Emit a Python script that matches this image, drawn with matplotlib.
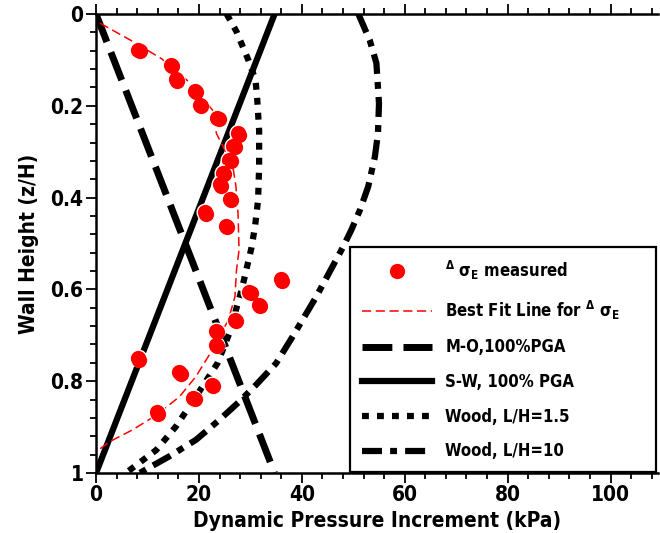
import numpy as np
import matplotlib
matplotlib.use("Agg")
import matplotlib.pyplot as plt
from matplotlib.transforms import offset_copy

plt.rcParams['font.family'] = ['DejaVu Sans']
plt.rcParams['font.stretch'] = 'condensed'
plt.rcParams['font.weight'] = 'bold'
plt.rcParams['mathtext.default'] = 'bf'

# measured dynamic pressure increments (kPa) vs normalised height z/H
meas_z = [0.078, 0.110, 0.142, 0.167, 0.198, 0.226, 0.260, 0.287, 0.317, 0.346, 0.371,
          0.402, 0.432, 0.462, 0.578, 0.605, 0.634, 0.667, 0.690, 0.721, 0.750, 0.781,
          0.808, 0.837, 0.868]
meas_p = [8.2, 14.5, 15.5, 19.2, 20.2, 23.6, 27.6, 26.7, 25.9, 24.7, 24.1,
          26.0, 21.2, 25.2, 35.9, 29.8, 31.7, 27.0, 23.3, 23.3, 8.1, 16.2,
          22.5, 18.9, 11.8]

# best fit through the measurements
fit_z = [0.02, 0.06, 0.097, 0.15, 0.21, 0.26, 0.30, 0.34, 0.376, 0.434, 0.514, 0.558,
         0.616, 0.667, 0.732, 0.790, 0.834, 0.874, 0.906, 0.932, 0.954]
fit_p = [0.8, 7.2, 12.7, 18.3, 22.7, 23.4, 25.2, 26.7, 27.2, 27.6, 27.8, 27.3,
         27.0, 25.7, 22.6, 19.4, 16.2, 11.7, 7.1, 2.6, 0.0]

# Mononobe-Okabe and Seed-Whitman, 100% PGA
mo_z = [0.0, 1.0]
mo_p = [0.0, 34.7]
sw_z = [0.0, 1.0]
sw_p = [34.7, 0.0]

# Wood solutions
w15_z = [0.0, 0.038, 0.10, 0.144, 0.18, 0.253, 0.333, 0.405, 0.463, 0.51, 0.601,
         0.696, 0.761, 0.834, 0.899, 0.95, 1.0]
w15_p = [25.4, 27.3, 29.6, 31.0, 31.3, 31.7, 31.7, 31.5, 30.9, 30.2, 28.3,
         25.9, 23.6, 19.4, 15.5, 11.7, 5.8]
w10_z = [0.0, 0.057, 0.107, 0.195, 0.26, 0.311, 0.376, 0.427, 0.471, 0.51, 0.616,
         0.703, 0.761, 0.808, 0.845, 0.885, 0.928, 0.964, 1.0]
w10_p = [51.0, 53.2, 54.5, 55.0, 54.8, 54.2, 52.9, 51.3, 49.6, 47.9, 42.8,
         38.2, 35.0, 31.1, 27.8, 23.9, 19.4, 14.2, 8.5]

xticks = [0, 20, 40, 60, 80, 100]
yticks = [0, 0.2, 0.4, 0.6, 0.8, 1]

fig = plt.figure(figsize=(6.6, 5.33), dpi=100)
ax = fig.add_axes([0.1455, 0.1126, 0.852, 0.861])

ax.plot(mo_p, mo_z, color='black', lw=5, ls=(0, (4.3, 1.6)), label='M-O,100%PGA')
ax.plot(sw_p, sw_z, color='black', lw=4.5, ls='-', label='S-W, 100% PGA')
ax.plot(w15_p, w15_z, color='black', lw=4.5, ls=(0, (1.1, 1.3)), label='Wood, L/H=1.5')
ax.plot(w10_p, w10_z, color='black', lw=4.5, ls=(0, (3.2, 1.3, 1.1, 1.3)),
        label='Wood, L/H=10')
ax.plot(fit_p, fit_z, color='red', lw=1.1, ls=(0, (6, 3)),
        label=r'Best Fit Line for $^{\Delta}\ \sigma_{E}$')

# red markers with a small white highlight
ax.plot(meas_p, meas_z, 'o', color='red', ms=12, mec='white', mew=1.0,
        label=r'$^{\Delta}\ \sigma_{E}$ measured', zorder=5)
shift = offset_copy(ax.transData, fig=fig, x=1.3, y=-1.3, units='dots')
ax.plot(meas_p, meas_z, 'o', color='red', ms=11, mew=0, transform=shift, zorder=6)

ax.set_xlim(0, 109.3)
ax.set_ylim(1, 0)
ax.set_xticks(xticks)
ax.set_xticklabels([str(t) for t in xticks])
ax.set_yticks(yticks)
ax.set_yticklabels(['0', '0.2', '0.4', '0.6', '0.8', '1'])
ax.set_xticks(np.arange(0, 110, 4), minor=True)
ax.set_yticks(np.arange(0, 1.001, 0.04), minor=True)
ax.tick_params(which='both', top=True, right=False, direction='out', width=1.3,
               labelsize=15)
ax.tick_params(which='major', length=7, pad=2)
ax.tick_params(which='minor', length=4)
ax.spines['right'].set_visible(False)
for s in ['left', 'top', 'bottom']:
    ax.spines[s].set_linewidth(1.8)

ax.set_xlabel('Dynamic Pressure Increment (kPa)', fontsize=15, fontweight='bold',
              labelpad=4)
ax.set_ylabel('Wall Height (z/H)', fontsize=15, fontweight='bold', labelpad=8)

handles, labels = ax.get_legend_handles_labels()
order = [5, 4, 0, 1, 2, 3]
leg = ax.legend([handles[i] for i in order], [labels[i] for i in order],
                loc='lower left', bbox_to_anchor=(0.452, 0.002, 0.543, 0.488),
                mode='expand', borderaxespad=0, fancybox=False, framealpha=1,
                edgecolor='black', fontsize=12, handlelength=4.2,
                handletextpad=0.8, labelspacing=1.0, borderpad=0.7)
leg.get_frame().set_linewidth(1.6)
leg.set_zorder(10)

fig.savefig('out.png', dpi=100)
